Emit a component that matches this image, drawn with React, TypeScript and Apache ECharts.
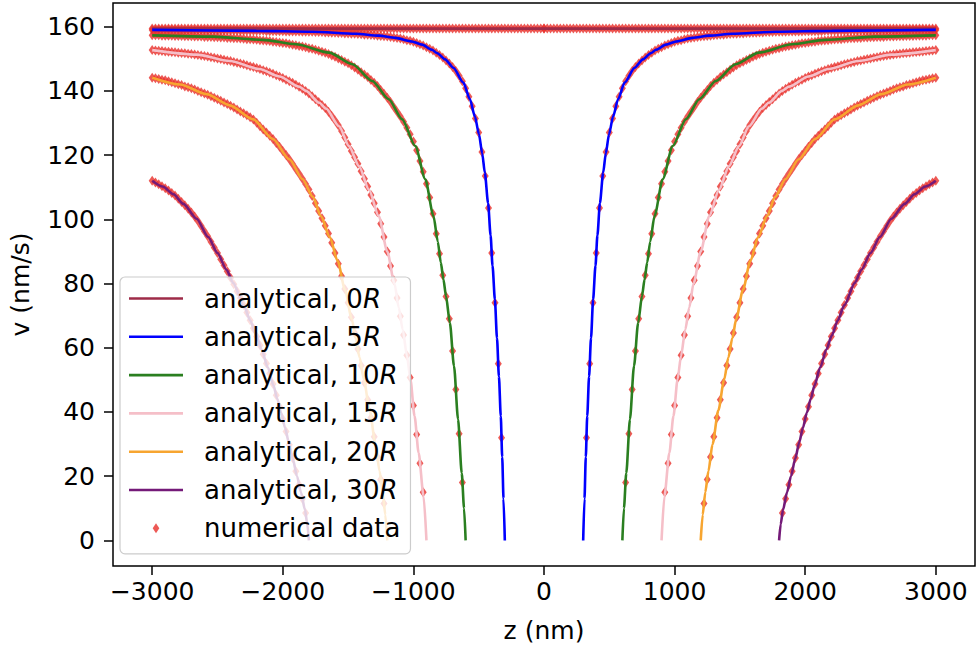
import React, { useEffect, useRef } from "react";
import * as echarts from "echarts";

// ---------- axes ----------
const X_TICKS = [-3000, -2000, -1000, 0, 1000, 2000, 3000];
const Y_TICKS = [0, 20, 40, 60, 80, 100, 120, 140, 160];

// ---------- legend / series names ----------
const LINE_NAMES = [
  "analytical, 0R",
  "analytical, 5R",
  "analytical, 10R",
  "analytical, 15R",
  "analytical, 20R",
  "analytical, 30R",
];
const NUM_NAME = "numerical data";

// ---------- analytical curves (right branch, z >= start; left branch is the mirror) ----------
const ZERO_R_Z = [0, 3000];
const ZERO_R_V = [159.4, 159.4];

const FIVE_R_Z = [300, 310, 320, 331, 345, 360, 376, 394, 409, 428, 453, 473, 498, 529, 567, 618, 694, 757, 820, 858, 934, 1011, 1137, 1265, 1442, 1772, 2203, 3000];
const FIVE_R_V = [0, 13, 26, 38.7, 51, 63, 75, 85.5, 95, 105, 114.5, 120.5, 126.5, 132, 137.4, 142.6, 147.2, 149.8, 151.8, 152.8, 154.4, 155.4, 156.5, 157.2, 157.8, 158.4, 158.7, 159.0];

const TEN_R_Z = [600, 612, 630, 658, 689, 721, 750, 770, 790, 813, 846, 909, 985, 1087, 1189, 1315, 1467, 1645, 1899, 2152, 2533, 3000];
const TEN_R_V = [0, 10, 21, 37.7, 54.3, 67.8, 76, 81.3, 86.5, 93, 101, 112.5, 122.8, 131.2, 137.4, 143.1, 148.3, 151.9, 154.5, 155.9, 156.9, 157.3];

const FIFTEEN_R_Z = [900, 922, 960, 991, 1023, 1049, 1082, 1112, 1145, 1200, 1265, 1341, 1417, 1493, 1569, 1670, 1721, 1823, 1874, 2026, 2178, 2406, 2660, 3000];
const FIFTEEN_R_V = [0, 13.8, 27.3, 38.7, 50.2, 57.4, 65.7, 72.5, 80, 90, 101, 109.3, 116.6, 122.8, 129, 134.5, 136.3, 140, 141.3, 144.5, 146.8, 149.3, 151.3, 152.7];

const TWENTY_R_Z = [1200, 1215, 1235, 1259, 1290, 1335, 1379, 1412, 1442, 1472, 1523, 1580, 1640, 1708, 1770, 1848, 1950, 2076, 2229, 2406, 2584, 2787, 3000];
const TWENTY_R_V = [0, 8, 15, 21.6, 29.9, 40.5, 50, 57, 63, 69, 78, 87, 94.5, 101, 107, 112.5, 118.7, 125, 131.2, 135.5, 139, 142, 144.1];

const THIRTY_R_Z = [1800, 1812, 1830, 1861, 1891, 1924, 1954, 1982, 2013, 2043, 2071, 2114, 2163, 2203, 2249, 2300, 2380, 2431, 2500, 2571, 2660, 2761, 2837, 2920, 3000];
const THIRTY_R_V = [0, 5, 9.5, 15, 20, 25.5, 30.5, 35, 39.8, 44.2, 48.2, 53.8, 59.5, 63.8, 68.5, 73.3, 80.2, 84.3, 89.5, 94.5, 100.2, 104.8, 107.8, 110.2, 112];

// ---------- numerical data (z grid of the simulation, right branch; mirrored on the left) ----------
const NUM_Z = [0, 25, 50, 75, 100, 125, 150, 175, 200, 225, 250, 275, 300, 325, 350, 375, 400, 425, 450, 475, 500, 525, 550, 575, 600, 625, 650, 675, 700, 725, 750, 775, 800, 825, 850, 875, 900, 925, 950, 975, 1000, 1025, 1050, 1075, 1100, 1125, 1150, 1175, 1200, 1225, 1250, 1275, 1300, 1325, 1350, 1375, 1400, 1425, 1450, 1475, 1500, 1525, 1550, 1575, 1600, 1625, 1650, 1675, 1700, 1725, 1750, 1775, 1800, 1825, 1850, 1875, 1900, 1925, 1950, 1975, 2000, 2025, 2050, 2075, 2100, 2125, 2150, 2175, 2200, 2225, 2250, 2275, 2300, 2325, 2350, 2375, 2400, 2425, 2450, 2475, 2500, 2525, 2550, 2575, 2600, 2625, 2650, 2675, 2700, 2725, 2750, 2775, 2800, 2825, 2850, 2875, 2900, 2925, 2950, 2975, 3000];

// values belong to the last entries of NUM_Z
const NUM_ZERO_R_LEVEL = 159.4;
const NUM_FIVE_R = [32, 55, 74, 89.5, 103.5, 113.5, 121, 127, 131.4, 135.2, 138.2, 140.8, 143, 144.7, 146.2, 147.4, 148.5, 149.5, 150.4, 151.2, 151.9, 152.6, 153.1, 153.6, 154.1, 154.5, 154.9, 155.3,
  155.6, 155.8, 156.1, 156.3, 156.5, 156.6, 156.8, 156.9, 157.0, 157.1, 157.2, 157.3, 157.4, 157.5, 157.5, 157.6, 157.7, 157.8, 157.8, 157.9,
  157.9, 158.0, 158.0, 158.1, 158.1, 158.2, 158.2, 158.3, 158.3, 158.3, 158.4, 158.4, 158.4, 158.4, 158.5, 158.5, 158.5, 158.5, 158.5, 158.6,
  158.6, 158.6, 158.6, 158.6, 158.6, 158.7, 158.7, 158.7, 158.7, 158.7, 158.7, 158.7, 158.7, 158.8, 158.8, 158.8, 158.8, 158.8, 158.8, 158.8,
  158.8, 158.8, 158.8, 158.9, 158.9, 158.9, 158.9, 158.9, 158.9, 158.9, 158.9, 158.9, 159.0, 159.0, 159.0, 159.0, 159.0, 159.0, 159.0, 159.0];
const NUM_TEN_R = [18, 33.2, 47, 59, 69, 76, 82.6, 89.3, 95.5, 101.7, 106.8, 111.1, 114.8, 118.2, 121.5, 124.2, 126.5, 128.5, 130.4, 132, 133.5, 135, 136.5, 137.9, 139.1, 140.3, 141.5, 142.5, 143.4, 144.3, 145.1, 145.8, 146.6, 147.3, 148, 148.6, 149.1, 149.6, 150.1, 150.6, 151, 151.5, 151.9, 152.2, 152.5, 152.8, 153.1, 153.3, 153.6, 153.8, 154, 154.2, 154.4, 154.6, 154.8, 154.9, 155.1, 155.2, 155.3, 155.5, 155.6, 155.7, 155.8, 155.9, 156, 156.1, 156.1, 156.2, 156.3, 156.4, 156.4, 156.5, 156.5, 156.6, 156.6, 156.7, 156.7, 156.8, 156.8, 156.8, 156.9, 156.9, 156.9, 157, 157, 157, 157.1, 157.1, 157.1, 157.2, 157.2, 157.2, 157.2, 157.3, 157.3, 157.3];
const NUM_FIFTEEN_R = [15, 24, 33, 42, 50.7, 57.7, 64, 69.8, 75.5, 81, 85.5, 90, 94.5, 98.6, 102.2, 105, 107.6, 110.2, 112.6, 115, 117.3, 119.3, 121.3, 123.4, 125.5, 127.5, 129.3, 130.8, 132.2, 133.5, 134.7, 135.6, 136.5, 137.4, 138.3, 139.2, 140, 140.7, 141.3, 141.9, 142.5, 143, 143.5, 144, 144.5, 144.9, 145.3, 145.7, 146.1, 146.4, 146.8, 147.1, 147.4, 147.7, 148, 148.3, 148.5, 148.8, 149, 149.3, 149.5, 149.7, 149.9, 150.1, 150.3, 150.5, 150.7, 150.9, 151.0, 151.2, 151.3, 151.5, 151.6, 151.7, 151.8, 151.9, 152.0, 152.1, 152.2, 152.3, 152.4, 152.5, 152.6, 152.7];
const NUM_TWENTY_R = [11.5, 19, 26, 32.3, 38.2, 43.8, 49.1, 54.5, 59.6, 64.6, 69.5, 74, 78.3, 82.3, 86.2, 89.5, 92.7, 95.6, 98, 100.3, 102.6, 105, 107.3, 109.3, 111, 112.6, 114.2, 115.7, 117.2, 118.7, 120, 121.3, 122.6, 123.8, 125, 126, 127, 128, 129, 130.1, 131.1, 131.8, 132.4, 133, 133.6, 134.2, 134.8, 135.4, 135.9, 136.4, 136.9, 137.4, 137.9, 138.3, 138.8, 139.2, 139.6, 140.0, 140.4, 140.8, 141.1, 141.4, 141.8, 142.1, 142.4, 142.7, 143.0, 143.3, 143.5, 143.7, 143.9, 144.1];
const NUM_THIRTY_R = [8.5, 13, 17.3, 21.5, 25.7, 29.8, 33.9, 37.8, 41.6, 45.2, 48.7, 52, 55.1, 58, 60.8, 63.5, 66.1, 68.6, 71, 73.3, 75.5, 77.6, 79.8, 81.8, 83.8, 85.7, 87.6, 89.5, 91.2, 93, 94.7, 96.3, 97.9, 99.5, 100.9, 102.1, 103.3, 104.4, 105.4, 106.4, 107.4, 108.2, 109, 109.7, 110.3, 110.9, 111.5, 112];

// ---------- styling ----------
const LINE_COLORS = ["#9e2b48", "#0000ff", "#2a7f20", "#f5bfc8", "#f7a530", "#741a78"];
const MARKER_COLOR = "#e8302a";
const FONT = "DejaVu Sans";

function mirrored(zs: number[], vs: number[], gap: boolean): any[] {
  const right = zs.map((z, i) => [z, vs[i]]);
  const left = right
    .slice()
    .reverse()
    .map(([z, v]) => [-z, v]);
  return gap ? [...left, [0, "-"], ...right] : [...left, ...right];
}

function markerPairs(vals: number[]): number[][] {
  const off = NUM_Z.length - vals.length;
  const right = vals.map((v, i) => [NUM_Z[off + i], v]);
  const left = right.map(([z, v]) => [-z, v]);
  return [...left, ...right];
}

export default function App() {
  const ref = useRef<HTMLDivElement>(null);

  useEffect(() => {
    document.body.style.margin = "0";
    if (!ref.current) return;
    const chart = echarts.init(ref.current, undefined, { renderer: "svg" });

    const curves: [number[], number[]][] = [
      [ZERO_R_Z, ZERO_R_V],
      [FIVE_R_Z, FIVE_R_V],
      [TEN_R_Z, TEN_R_V],
      [FIFTEEN_R_Z, FIFTEEN_R_V],
      [TWENTY_R_Z, TWENTY_R_V],
      [THIRTY_R_Z, THIRTY_R_V],
    ];

    const zeroMarkers = NUM_Z.map(() => NUM_ZERO_R_LEVEL);
    const markers = [
      ...markerPairs(zeroMarkers),
      ...markerPairs(NUM_FIVE_R),
      ...markerPairs(NUM_TEN_R),
      ...markerPairs(NUM_FIFTEEN_R),
      ...markerPairs(NUM_TWENTY_R),
      ...markerPairs(NUM_THIRTY_R),
    ];

    const lineSeries = curves.map(([zs, vs], i) => ({
      name: LINE_NAMES[i],
      type: "line",
      data: mirrored(zs, vs, i !== 0),
      showSymbol: false,
      symbol: "none",
      smooth: 0.25,
      smoothMonotone: "x",
      connectNulls: false,
      lineStyle: { color: LINE_COLORS[i], width: 2.6 },
      itemStyle: { color: LINE_COLORS[i] },
      z: 3,
      silent: true,
    }));

    const tickText = { fontSize: 25, color: "#000", fontFamily: FONT };

    chart.setOption({
      animation: false,
      backgroundColor: "#fff",
      textStyle: { fontFamily: FONT },
      grid: {
        left: 107,
        right: 5,
        top: 3,
        bottom: 81,
        show: true,
        borderColor: "#000",
        borderWidth: 1.5,
        backgroundColor: "transparent",
      },
      xAxis: {
        type: "value",
        min: -3300,
        max: 3300,
        splitLine: { show: false },
        axisLine: { show: false, onZero: false },
        axisTick: { show: true, inside: false, length: 9, lineStyle: { color: "#000", width: 1.5 }, customValues: X_TICKS },
        axisLabel: {
          ...tickText,
          margin: 13,
          customValues: X_TICKS,
          formatter: (v: number) => String(v).replace("-", "\u2212"),
        },
        name: "z (nm)",
        nameLocation: "middle",
        nameGap: 52,
        nameTextStyle: { ...tickText },
      },
      yAxis: {
        type: "value",
        min: -7.97,
        max: 167.37,
        splitLine: { show: false },
        axisLine: { show: false, onZero: false },
        axisTick: { show: true, inside: false, length: 9, lineStyle: { color: "#000", width: 1.5 }, customValues: Y_TICKS },
        axisLabel: { ...tickText, margin: 18, customValues: Y_TICKS },
        name: "v (nm/s)",
        nameLocation: "middle",
        nameGap: 80,
        nameTextStyle: { ...tickText },
      },
      legend: {
        orient: "vertical",
        left: 120,
        top: 277,
        itemWidth: 54,
        itemHeight: 10,
        itemGap: 10.3,
        padding: [7.5, 10, 11.5, 9],
        backgroundColor: "rgba(255,255,255,0.8)",
        borderColor: "#cccccc",
        borderWidth: 1.2,
        borderRadius: 5,
        symbolKeepAspect: true,
        selectedMode: false,
        itemStyle: { borderWidth: 0 },
        textStyle: {
          fontSize: 26,
          color: "#000",
          fontFamily: FONT,
          lineHeight: 28,
          padding: [0, 0, 0, 16],
          rich: {
            it: { fontStyle: "italic", fontSize: 26, fontFamily: FONT, color: "#000", lineHeight: 28 },
          },
        },
        formatter: (name: string) => name.replace(/R$/, "{it|R}"),
        data: [
          ...LINE_NAMES.map((n, i) => ({
            name: n,
            icon: "path://M0,0H54V2.6H0Z",
            itemStyle: { color: LINE_COLORS[i], borderWidth: 0 },
          })),
          { name: NUM_NAME, icon: "path://M3.3,0L6.6,5L3.3,10L0,5Z", itemStyle: { color: MARKER_COLOR, borderWidth: 0 } },
        ],
      },
      series: [
        {
          name: NUM_NAME,
          type: "scatter",
          data: markers,
          symbol: "diamond",
          symbolSize: [7, 10],
          itemStyle: { color: MARKER_COLOR },
          z: 2,
          silent: true,
        },
        ...lineSeries,
      ],
    });

    return () => chart.dispose();
  }, []);

  return <div ref={ref} style={{ width: 980, height: 648 }} />;
}
